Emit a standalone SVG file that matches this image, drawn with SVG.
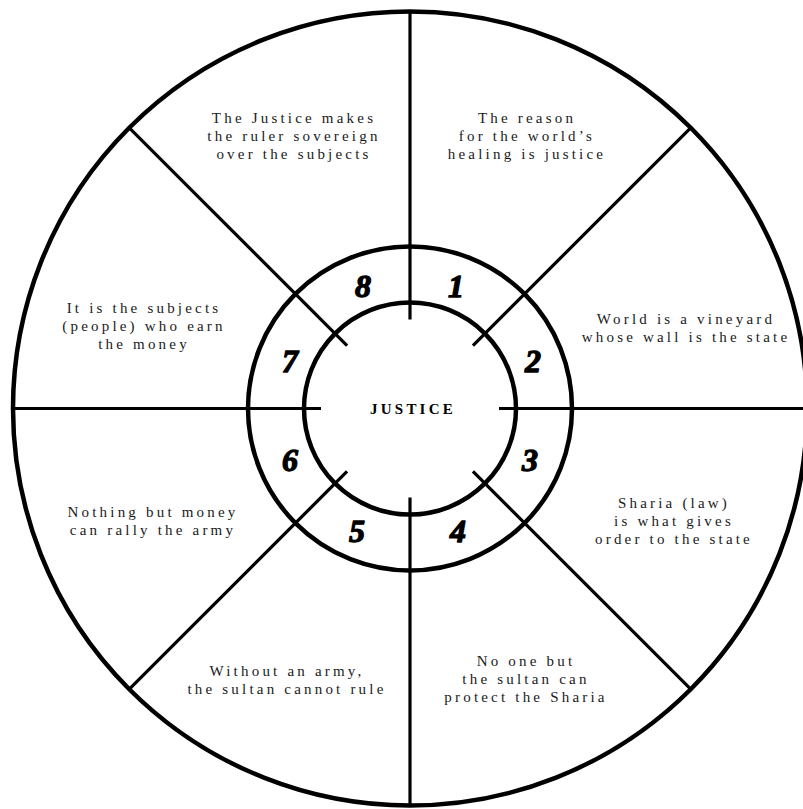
<svg xmlns="http://www.w3.org/2000/svg" width="803" height="809" viewBox="0 0 803 809">
<style>
.ring{fill:none;stroke:#000;stroke-width:4.5}
.outer{fill:none;stroke:#000;stroke-width:4.5}
.spoke{stroke:#000;stroke-width:3.2;stroke-linecap:butt}
.lbl{font-family:"Liberation Serif","Times New Roman",serif;font-size:15px;letter-spacing:3.2px;fill:#1a1a1a;text-anchor:middle}
.num{font-family:"Liberation Serif","Times New Roman",serif;font-size:32px;font-weight:bold;font-style:italic;fill:#000;stroke:#000;stroke-width:1.3;stroke-linejoin:round;text-anchor:middle}
.title{font-family:"Liberation Serif","Times New Roman",serif;font-size:15px;font-weight:bold;letter-spacing:3.2px;fill:#000;text-anchor:middle}
</style>
<rect width="803" height="809" fill="#fff"/>
<g id="wheel">
<circle class="outer" cx="410" cy="408.5" r="397"/>
<circle class="ring" cx="410" cy="408.5" r="162"/>
<circle class="ring" cx="410" cy="408.5" r="106"/>
</g>
<g id="connectors">
<line class="spoke" x1="410" y1="319.5" x2="410" y2="11.5"/>
<line class="spoke" x1="410" y1="497.5" x2="410" y2="805.5"/>
<line class="spoke" x1="321" y1="408.5" x2="13" y2="408.5"/>
<line class="spoke" x1="499" y1="408.5" x2="807" y2="408.5"/>
<line class="spoke" x1="347.07" y1="345.57" x2="129.3" y2="127.8"/>
<line class="spoke" x1="472.93" y1="345.57" x2="690.7" y2="127.8"/>
<line class="spoke" x1="347.07" y1="471.43" x2="129.3" y2="689.2"/>
<line class="spoke" x1="472.93" y1="471.43" x2="690.7" y2="689.2"/>
</g>
<g id="center">
<text class="title" x="413" y="414">JUSTICE</text>
</g>
<g id="seg1">
<text class="num" x="456" y="297">1</text>
<text class="lbl" x="527" y="123">The reason</text>
<text class="lbl" x="527" y="141">for the world’s</text>
<text class="lbl" x="527" y="159">healing is justice</text>
</g>
<g id="seg2">
<text class="num" x="533" y="372">2</text>
<text class="lbl" x="686" y="324">World is a vineyard</text>
<text class="lbl" x="686" y="342">whose wall is the state</text>
</g>
<g id="seg3">
<text class="num" x="530" y="471">3</text>
<text class="lbl" x="674" y="508">Sharia (law)</text>
<text class="lbl" x="674" y="526">is what gives</text>
<text class="lbl" x="674" y="544">order to the state</text>
</g>
<g id="seg4">
<text class="num" x="458" y="542">4</text>
<text class="lbl" x="526" y="666">No one but</text>
<text class="lbl" x="526" y="684">the sultan can</text>
<text class="lbl" x="526" y="702">protect the Sharia</text>
</g>
<g id="seg5">
<text class="num" x="357" y="542">5</text>
<text class="lbl" x="287" y="676">Without an army,</text>
<text class="lbl" x="287" y="694">the sultan cannot rule</text>
</g>
<g id="seg6">
<text class="num" x="290" y="471">6</text>
<text class="lbl" x="153" y="517">Nothing but money</text>
<text class="lbl" x="153" y="535">can rally the army</text>
</g>
<g id="seg7">
<text class="num" x="290" y="372">7</text>
<text class="lbl" x="144" y="313">It is the subjects</text>
<text class="lbl" x="144" y="331">(people) who earn</text>
<text class="lbl" x="144" y="349">the money</text>
</g>
<g id="seg8">
<text class="num" x="363" y="297">8</text>
<text class="lbl" x="294" y="123">The Justice makes</text>
<text class="lbl" x="294" y="141">the ruler sovereign</text>
<text class="lbl" x="294" y="159">over the subjects</text>
</g>
</svg>
